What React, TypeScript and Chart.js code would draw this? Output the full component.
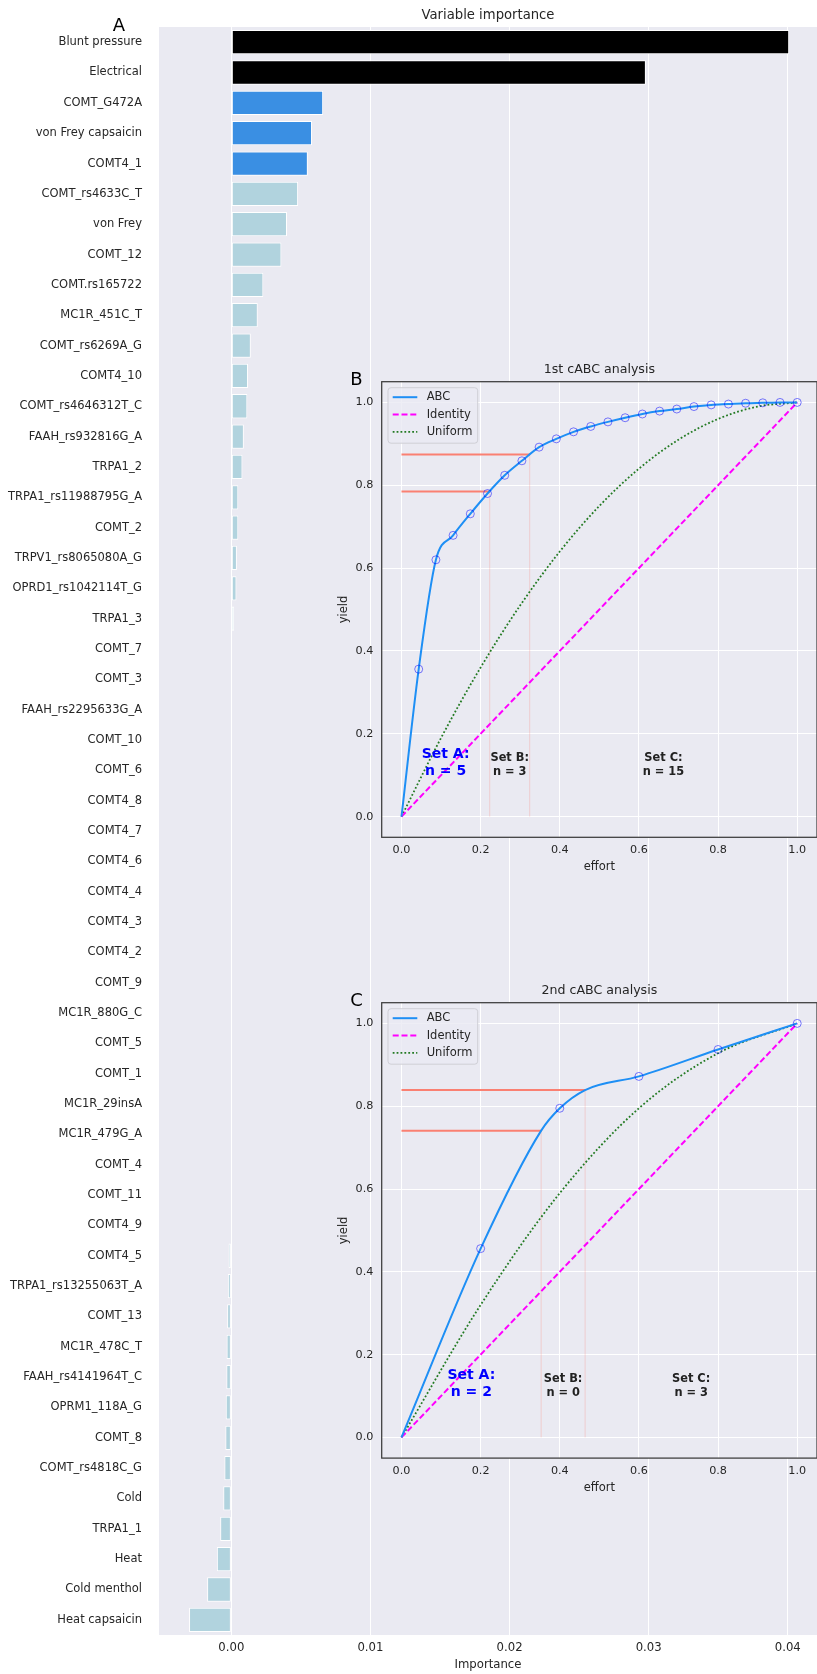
import React, { useEffect, useRef } from 'react';
import { Chart, registerables } from 'chart.js';

Chart.register(...registerables);

const FONT = '"DejaVu Sans", sans-serif';
const TEXT_COLOR = '#262626';
const PANEL_BG = '#EAEAF2';

// ---------- Panel A: variable importance ----------
const categories = [
  'Blunt pressure', 'Electrical', 'COMT_G472A', 'von Frey capsaicin', 'COMT4_1',
  'COMT_rs4633C_T', 'von Frey', 'COMT_12', 'COMT.rs165722', 'MC1R_451C_T',
  'COMT_rs6269A_G', 'COMT4_10', 'COMT_rs4646312T_C', 'FAAH_rs932816G_A', 'TRPA1_2',
  'TRPA1_rs11988795G_A', 'COMT_2', 'TRPV1_rs8065080A_G', 'OPRD1_rs1042114T_G', 'TRPA1_3',
  'COMT_7', 'COMT_3', 'FAAH_rs2295633G_A', 'COMT_10', 'COMT_6',
  'COMT4_8', 'COMT4_7', 'COMT4_6', 'COMT4_4', 'COMT4_3',
  'COMT4_2', 'COMT_9', 'MC1R_880G_C', 'COMT_5', 'COMT_1',
  'MC1R_29insA', 'MC1R_479G_A', 'COMT_4', 'COMT_11', 'COMT4_9',
  'COMT4_5', 'TRPA1_rs13255063T_A', 'COMT_13', 'MC1R_478C_T', 'FAAH_rs4141964T_C',
  'OPRM1_118A_G', 'COMT_8', 'COMT_rs4818C_G', 'Cold', 'TRPA1_1',
  'Heat', 'Cold menthol', 'Heat capsaicin',
];

const importance = [
  0.0401, 0.0298, 0.0066, 0.0058, 0.0055,
  0.0048, 0.0040, 0.0036, 0.0023, 0.0019,
  0.0014, 0.0012, 0.00115, 0.0009, 0.0008,
  0.0005, 0.0005, 0.0004, 0.00037, 0.0002,
  0.00004, 0.00002, 0, 0, 0,
  0, 0, 0, 0, 0,
  0, 0, 0, 0, 0,
  0, 0, 0, 0, -0.00003,
  -0.0002, -0.00025, -0.0003, -0.00034, -0.00036,
  -0.0004, -0.00043, -0.0005, -0.00058, -0.0008,
  -0.00104, -0.00174, -0.00304,
];

const importanceTicks = [0, 0.01, 0.02, 0.03, 0.04];

// ---------- Panel B: 1st cABC analysis ----------
const abc1Effort = [
  0.0435, 0.087, 0.1304, 0.1739, 0.2174, 0.2609, 0.3043, 0.3478, 0.3913, 0.4348,
  0.4783, 0.5217, 0.5652, 0.6087, 0.6522, 0.6957, 0.7391, 0.7826, 0.8261, 0.8696,
  0.913, 0.9565, 1.0,
];
const abc1Yield = [
  0.356, 0.620, 0.679, 0.731, 0.780, 0.824, 0.859, 0.892, 0.912, 0.929,
  0.942, 0.953, 0.963, 0.972, 0.979, 0.984, 0.990, 0.994, 0.996, 0.998,
  0.999, 1.0, 1.0,
];
const uniform1Effort = [0, 0.1, 0.2, 0.3, 0.4, 0.5, 0.6, 0.7, 0.8, 0.9, 1.0];
const uniform1Yield = [0, 0.19, 0.36, 0.51, 0.64, 0.75, 0.84, 0.91, 0.96, 0.99, 1.0];
const cut1Effort = [0.223, 0.324];
const cut1Yield = [0.785, 0.874];
const set1Counts = ['n = 5', 'n = 3', 'n = 15'];

// ---------- Panel C: 2nd cABC analysis ----------
const abc2Effort = [0.2, 0.4, 0.6, 0.8, 1.0];
const abc2Yield = [0.456, 0.795, 0.872, 0.937, 1.0];
const abc2CurveEffort = [0, 0.2, 0.353, 0.4, 0.464, 0.6, 0.8, 1.0];
const abc2CurveYield = [0, 0.456, 0.741, 0.795, 0.839, 0.872, 0.937, 1.0];
const uniform2Effort = [0, 0.2, 0.4, 0.6, 0.8, 1.0];
const uniform2Yield = [0, 0.32, 0.59, 0.795, 0.928, 1.0];
const cut2Effort = [0.353, 0.464];
const cut2Yield = [0.741, 0.839];
const set2Counts = ['n = 2', 'n = 0', 'n = 3'];

const identityEffort = [0, 1];
const identityYield = [0, 1];
const unitTicks = [0, 0.2, 0.4, 0.6, 0.8, 1.0];

const setNames = ['Set A:', 'Set B:', 'Set C:'];
const legendNames = ['ABC', 'Identity', 'Uniform'];

const ABC_COLOR = '#1e8ff5';
const IDENTITY_COLOR = '#ff00ff';
const UNIFORM_COLOR = '#237a23';
const CUT_COLOR = '#fa8072';

const IDENTITY_DASH = [6, 2.8];
const UNIFORM_DASH = [1.8, 2.1];

const barColor = (i: number) => (i < 2 ? '#000000' : i < 5 ? '#3a8fe3' : '#b1d3de');

const pts = (xs: number[], ys: number[]) => xs.map((x, i) => ({ x, y: ys[i] }));

const mainDecor = {
  id: 'mainDecor',
  beforeDraw(chart: any) {
    const { ctx, chartArea: a } = chart;
    ctx.save();
    ctx.fillStyle = PANEL_BG;
    ctx.fillRect(a.left, a.top, a.right - a.left, a.bottom - a.top);
    ctx.restore();
  },
  afterDraw(chart: any) {
    const { ctx, chartArea: a } = chart;
    ctx.save();
    ctx.textAlign = 'center';
    ctx.textBaseline = 'middle';
    ctx.fillStyle = TEXT_COLOR;
    ctx.font = `13.2px ${FONT}`;
    ctx.fillText('Variable importance', (a.left + a.right) / 2, 15.5);
    ctx.fillStyle = '#000000';
    ctx.font = `18px ${FONT}`;
    ctx.fillText('A', 118.8, 26.5);
    ctx.restore();
  },
};

function MainChart() {
  const ref = useRef<HTMLCanvasElement>(null);
  useEffect(() => {
    const chart = new Chart(ref.current as HTMLCanvasElement, {
      type: 'bar',
      data: {
        labels: categories,
        datasets: [
          {
            data: importance,
            backgroundColor: categories.map((_, i) => barColor(i)),
            borderColor: '#ffffff',
            borderWidth: 1,
            borderSkipped: false,
            barPercentage: 0.8,
            categoryPercentage: 1,
          },
        ],
      },
      options: {
        indexAxis: 'y',
        responsive: false,
        animation: false,
        layout: { padding: { top: 27, left: 0, right: 0, bottom: 0 } },
        plugins: { legend: { display: false }, tooltip: { enabled: false } },
        scales: {
          x: {
            type: 'linear',
            min: -0.0052,
            max: 0.0421,
            afterBuildTicks: (s: any) => {
              s.ticks = importanceTicks.map((v) => ({ value: v }));
            },
            afterFit: (s: any) => {
              s.height = 39;
            },
            grid: { color: '#ffffff', lineWidth: 1, drawTicks: false },
            border: { display: false },
            ticks: {
              color: TEXT_COLOR,
              font: { family: FONT, size: 11.7 },
              padding: 6,
              callback: (v: any) => Number(v).toFixed(2),
            },
            title: {
              display: true,
              text: 'Importance',
              color: TEXT_COLOR,
              font: { family: FONT, size: 11.7 },
              padding: { top: 0, bottom: 1.6 },
            },
          },
          y: {
            type: 'category',
            afterFit: (s: any) => {
              s.width = 159;
            },
            grid: { display: false },
            border: { display: false },
            ticks: {
              color: TEXT_COLOR,
              font: { family: FONT, size: 11.5 },
              padding: 9,
              autoSkip: false,
            },
          },
        },
      } as any,
      plugins: [mainDecor],
    });
    return () => chart.destroy();
  }, []);
  return (
    <canvas
      ref={ref}
      width={817}
      height={1674}
      style={{ position: 'absolute', left: 0, top: 0, display: 'block' }}
    />
  );
}

type InsetSpec = {
  canvasTop: number;
  axisHeight: number;
  letter: string;
  title: string;
  curveX: number[];
  curveY: number[];
  markX: number[];
  markY: number[];
  uniX: number[];
  uniY: number[];
  cutX: number[];
  cutY: number[];
  counts: string[];
};

const INSET_LEFT = 330;
const INSET_W = 492;
const INSET_H = 525;
const INSET_PAD_TOP = 26.7;

function insetDecor(spec: InsetSpec) {
  return {
    id: 'insetDecor',
    beforeDraw(chart: any) {
      const { ctx, chartArea: a } = chart;
      ctx.save();
      ctx.fillStyle = PANEL_BG;
      ctx.fillRect(a.left, a.top, a.right - a.left, a.bottom - a.top);
      ctx.restore();
    },
    afterDraw(chart: any) {
      const { ctx, chartArea: a, scales } = chart;
      const xs = scales.x;
      const ys = scales.y;
      ctx.save();
      // frame
      ctx.strokeStyle = '#3c3c3c';
      ctx.lineWidth = 1.25;
      ctx.strokeRect(a.left, a.top, a.right - a.left, a.bottom - a.top);

      // title and panel letter
      ctx.textAlign = 'center';
      ctx.textBaseline = 'middle';
      ctx.fillStyle = TEXT_COLOR;
      ctx.font = `12.6px ${FONT}`;
      ctx.fillText(spec.title, (a.left + a.right) / 2, a.top - 11.7);
      ctx.fillStyle = '#000000';
      ctx.font = `18px ${FONT}`;
      ctx.fillText(spec.letter, 26.5, a.top - 1.5);

      // legend
      const lx = a.left + 6.3;
      const ly = a.top + 6;
      const lw = 89.7;
      const lh = 55.5;
      ctx.beginPath();
      (ctx as any).roundRect(lx, ly, lw, lh, 3);
      ctx.fillStyle = 'rgba(234,234,242,0.8)';
      ctx.fill();
      ctx.strokeStyle = '#cfcfd6';
      ctx.lineWidth = 1;
      ctx.stroke();
      const styles = [
        { color: ABC_COLOR, dash: [] as number[], w: 2 },
        { color: IDENTITY_COLOR, dash: IDENTITY_DASH, w: 2 },
        { color: UNIFORM_COLOR, dash: UNIFORM_DASH, w: 1.8 },
      ];
      ctx.font = `11.5px ${FONT}`;
      ctx.textAlign = 'left';
      legendNames.forEach((name, i) => {
        const y = a.top + 15.5 + i * 17.35;
        ctx.beginPath();
        ctx.setLineDash(styles[i].dash);
        ctx.strokeStyle = styles[i].color;
        ctx.lineWidth = styles[i].w;
        ctx.moveTo(a.left + 11, y);
        ctx.lineTo(a.left + 35.6, y);
        ctx.stroke();
        ctx.setLineDash([]);
        ctx.fillStyle = TEXT_COLOR;
        ctx.fillText(name, a.left + 45, y);
      });

      // set annotations
      const bounds = [0, spec.cutX[0], spec.cutX[1], 1];
      ctx.textAlign = 'center';
      setNames.forEach((name, i) => {
        const cx = xs.getPixelForValue((bounds[i] + bounds[i + 1]) / 2);
        if (i === 0) {
          const cy = ys.getPixelForValue(0.13);
          ctx.fillStyle = '#0000ff';
          ctx.font = `bold 14px ${FONT}`;
          ctx.fillText(name, cx, cy - 8.3);
          ctx.fillText(spec.counts[i], cx, cy + 8.3);
        } else {
          const cy = ys.getPixelForValue(0.125);
          ctx.fillStyle = '#222222';
          ctx.font = `bold 11.4px ${FONT}`;
          ctx.fillText(name, cx, cy - 7);
          ctx.fillText(spec.counts[i], cx, cy + 7);
        }
      });
      ctx.restore();
    },
  };
}

function InsetChart({ spec }: { spec: InsetSpec }) {
  const ref = useRef<HTMLCanvasElement>(null);
  useEffect(() => {
    const axisCommon = {
      type: 'linear',
      min: -0.05,
      max: 1.05,
      afterBuildTicks: (s: any) => {
        s.ticks = unitTicks.map((v) => ({ value: v }));
      },
      grid: { color: '#ffffff', lineWidth: 1, drawTicks: false },
      border: { display: false },
    };
    const datasets: any[] = [
      {
        data: pts(spec.markX, spec.markY),
        showLine: false,
        pointRadius: 4,
        pointBorderWidth: 1,
        pointBorderColor: 'rgba(0,0,255,0.5)',
        pointBackgroundColor: 'rgba(0,0,0,0)',
      },
      {
        data: pts(spec.curveX, spec.curveY),
        borderColor: ABC_COLOR,
        borderWidth: 2,
        pointRadius: 0,
        cubicInterpolationMode: 'monotone',
      },
      {
        data: pts(identityEffort, identityYield),
        borderColor: IDENTITY_COLOR,
        borderWidth: 2,
        borderDash: IDENTITY_DASH,
        pointRadius: 0,
      },
      {
        data: pts(spec.uniX, spec.uniY),
        borderColor: UNIFORM_COLOR,
        borderWidth: 1.8,
        borderDash: UNIFORM_DASH,
        pointRadius: 0,
        cubicInterpolationMode: 'monotone',
      },
    ];
    spec.cutX.forEach((cx, i) => {
      datasets.push({
        data: pts([0, cx], [spec.cutY[i], spec.cutY[i]]),
        borderColor: CUT_COLOR,
        borderWidth: 2,
        pointRadius: 0,
      });
      datasets.push({
        data: pts([cx, cx], [0, spec.cutY[i]]),
        borderColor: 'rgba(250,128,114,0.28)',
        borderWidth: 1,
        pointRadius: 0,
      });
    });
    const chart = new Chart(ref.current as HTMLCanvasElement, {
      type: 'line',
      data: { datasets },
      options: {
        responsive: false,
        animation: false,
        layout: { padding: { top: INSET_PAD_TOP, left: 0, right: 0, bottom: 0 } },
        plugins: { legend: { display: false }, tooltip: { enabled: false } },
        scales: {
          x: {
            ...axisCommon,
            afterFit: (s: any) => {
              s.height = spec.axisHeight;
            },
            ticks: {
              color: TEXT_COLOR,
              font: { family: FONT, size: 11.2 },
              padding: 6.5,
              callback: (v: any) => Number(v).toFixed(1),
            },
            title: {
              display: true,
              text: 'effort',
              color: TEXT_COLOR,
              font: { family: FONT, size: 11.5 },
              padding: { top: 0, bottom: 6.3 },
            },
          },
          y: {
            ...axisCommon,
            afterFit: (s: any) => {
              s.width = 51.7;
            },
            ticks: {
              color: TEXT_COLOR,
              font: { family: FONT, size: 11.2 },
              padding: 8.4,
              callback: (v: any) => Number(v).toFixed(1),
            },
            title: {
              display: true,
              text: 'yield',
              color: TEXT_COLOR,
              font: { family: FONT, size: 11.5 },
              padding: { top: 7.1, bottom: 0 },
            },
          },
        },
      } as any,
      plugins: [insetDecor(spec)],
    });
    return () => chart.destroy();
  }, []);
  return (
    <canvas
      ref={ref}
      width={INSET_W}
      height={INSET_H}
      style={{ position: 'absolute', left: INSET_LEFT, top: spec.canvasTop, display: 'block' }}
    />
  );
}

const specB: InsetSpec = {
  canvasTop: 355,
  axisHeight: 42.7,
  letter: 'B',
  title: '1st cABC analysis',
  curveX: [0, ...abc1Effort],
  curveY: [0, ...abc1Yield],
  markX: abc1Effort,
  markY: abc1Yield,
  uniX: uniform1Effort,
  uniY: uniform1Yield,
  cutX: cut1Effort,
  cutY: cut1Yield,
  counts: set1Counts,
};

const specC: InsetSpec = {
  canvasTop: 975.9,
  axisHeight: 42.9,
  letter: 'C',
  title: '2nd cABC analysis',
  curveX: abc2CurveEffort,
  curveY: abc2CurveYield,
  markX: abc2Effort,
  markY: abc2Yield,
  uniX: uniform2Effort,
  uniY: uniform2Yield,
  cutX: cut2Effort,
  cutY: cut2Yield,
  counts: set2Counts,
};

export default function App() {
  return (
    <div
      style={{
        position: 'absolute',
        left: 0,
        top: 0,
        width: 817,
        height: 1674,
        overflow: 'hidden',
        background: '#ffffff',
      }}
    >
      <MainChart />
      <InsetChart spec={specB} />
      <InsetChart spec={specC} />
    </div>
  );
}
